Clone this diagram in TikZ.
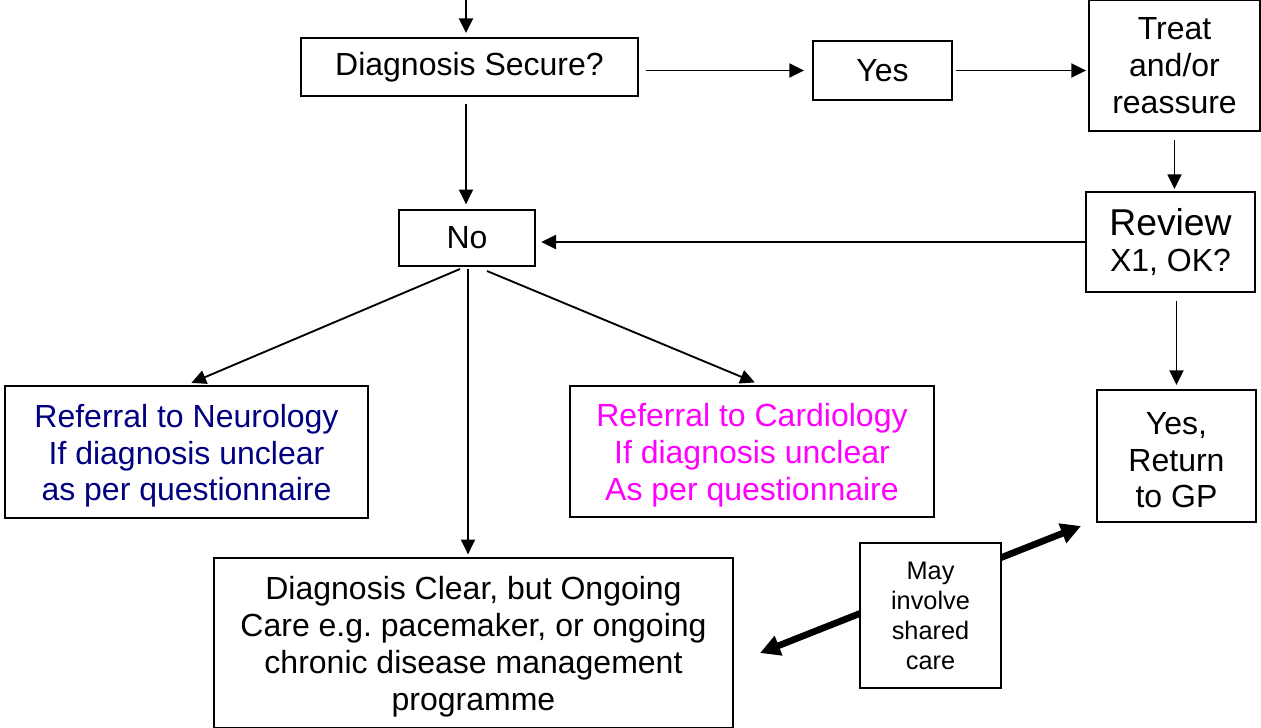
\documentclass[tikz,border=0pt]{standalone}
\usepackage{fontspec}
\setmainfont{Liberation Sans}
\usetikzlibrary{arrows.meta,calc}
\definecolor{neuroblue}{RGB}{0,0,128}
\definecolor{cardiopink}{RGB}{255,0,255}
\newcommand{\firstline}{\rule{0pt}{23pt}}
\tikzset{
  box/.style={draw, line width=1.5pt, align=center, inner sep=0pt,
    font=\fontsize{24}{27.6}\selectfont},
  arr/.style={-{Triangle[length=11pt,width=10.5pt]}, line width=1.4pt},
  bigarr/.style={{Triangle[length=15pt,width=15pt]}-{Triangle[length=15pt,width=15pt]}, line width=5pt}
}
\begin{document}
\frenchspacing
\begin{tikzpicture}[x=0.75pt,y=-0.75pt]
  \useasboundingbox (0,0) rectangle (1261,728);

  % Kaesten
  \node[box, minimum width=252.75pt, minimum height=43.5pt] (secure) at (469.5,67) {Diagnosis Secure?};
  \node[box, minimum width=104.25pt, minimum height=44.25pt] (yes) at (882.5,70.5) {Yes};
  \node[box, minimum width=128.25pt, minimum height=98.25pt] (treat) at (1174.5,65.5) {Treat\\and/or\\reassure};
  \node[box, minimum width=126.75pt, minimum height=75pt] (review) at (1170.5,242) {{\fontsize{28}{30}\selectfont Review}\\X1, OK?};
  \node[box, minimum width=102pt, minimum height=42pt] (no) at (467,238) {No};
  \node[box, minimum width=272.25pt, minimum height=99pt, text=neuroblue] (neuro) at (186.5,452) {\firstline Referral to Neurology\\If diagnosis unclear\\as per questionnaire};
  \node[box, minimum width=273pt, minimum height=98.25pt, text=cardiopink] (cardio) at (752,451.5) {\firstline Referral to Cardiology\\If diagnosis unclear\\As per questionnaire};
  \node[box, minimum width=119.25pt, minimum height=99pt] (gp) at (1176.5,456) {\firstline Yes,\\Return\\to GP};
  \node[box, minimum width=389.25pt, minimum height=127.5pt] (clear) at (473.5,643) {\firstline Diagnosis Clear, but Ongoing\\Care e.g. pacemaker, or ongoing\\chronic disease management\\programme};

  % Pfeile
  \coordinate (entry) at (466,0);
  \coordinate (nobottom) at ($(no.south)+(1,2)$);
  \draw[arr, shorten >=3pt] (entry) -- (entry |- secure.north);
  \draw[arr, shorten <=5pt, shorten >=6pt] (secure.east |- yes) -- (yes.west);
  \draw[arr, shorten <=2pt, shorten >=1.5pt] (yes.east) -- (yes.east -| treat.west);
  \draw[arr, shorten <=6pt, shorten >=1.5pt] (treat.south) -- (treat.south |- review.north);
  \draw[arr, shorten >=4pt] (review.west) -- (review.west -| no.east);
  \draw[arr, shorten <=5pt, shorten >=3.5pt] (entry |- secure.south) -- (entry |- no.north);
  \draw[arr, shorten >=4pt] ($(no.south)+(-7,2)$) -- (neuro.north);
  \draw[arr, shorten >=5pt] ($(no.south)+(20,4)$) -- ($(cardio.north)+(9,0)$);
  \draw[arr, shorten >=2pt] (nobottom) -- (nobottom |- clear.north);
  \draw[arr, shorten <=6pt, shorten >=3pt] (review.south -| gp) -- (gp.north);

  % gemeinsame Betreuung
  \coordinate (shareA) at (760,653);
  \coordinate (shareB) at (1081,526);
  \draw[bigarr] (shareA) -- (shareB);
  \node[box, fill=white, minimum width=105.75pt, minimum height=108.75pt,
    font=\fontsize{19}{22.5}\selectfont] (may) at (930.5,615.5) {May\\involve\\shared\\care};
\end{tikzpicture}
\end{document}
